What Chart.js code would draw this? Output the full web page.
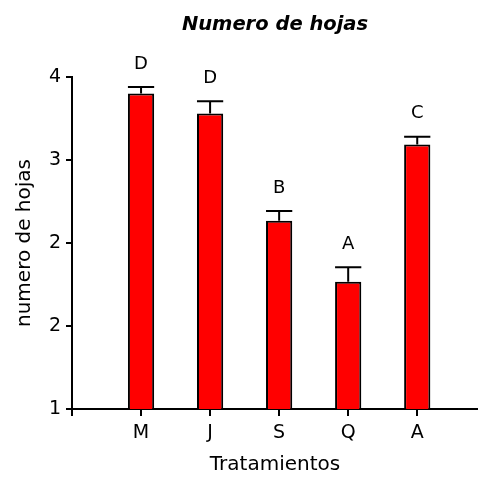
<!DOCTYPE html>
<html>
<head>
<meta charset="utf-8">
<title>Numero de hojas</title>
<script src="https://cdn.jsdelivr.net/npm/chart.js@4"></script>
<style>
  html, body { margin: 0; padding: 0; background: #fff; }
  #wrap { width: 478px; height: 478px; }
</style>
</head>
<body>
<div id="wrap"><canvas id="hojas"></canvas></div>
<script>
// treatments and their means
const tratamientos = ['M', 'J', 'S', 'Q', 'A'];
const mediaHojas = [3.85, 3.67, 2.70, 2.15, 3.39];
const errorHojas = [0.06, 0.11, 0.09, 0.13, 0.07];
const letras = ['D', 'D', 'B', 'A', 'C'];
// y axis ticks (the original labels are rounded, so "2" shows twice)
const yTickVals = [1, 1.75, 2.5, 3.25, 4];
const yTickLabels = ['1', '2', '2', '3', '4'];

Chart.defaults.font.family = '"DejaVu Sans", sans-serif';
Chart.defaults.color = '#000';

// error bar caps + significance letters over each bar, plus the x tick marks
const errorBars = {
  id: 'errorBars',
  afterDatasetsDraw(chart) {
    const ctx = chart.ctx;
    const xScale = chart.scales.x;
    const yScale = chart.scales.y;
    const bars = chart.getDatasetMeta(0).data;
    ctx.save();
    ctx.strokeStyle = '#000';
    ctx.lineWidth = 2;
    ctx.fillStyle = '#000';
    ctx.font = '18px "DejaVu Sans"';
    ctx.textAlign = 'center';
    ctx.textBaseline = 'middle';
    bars.forEach((bar, i) => {
      const top = yScale.getPixelForValue(mediaHojas[i]);
      const cap = yScale.getPixelForValue(mediaHojas[i] + errorHojas[i]);
      const half = bar.width / 2;
      ctx.beginPath();
      ctx.moveTo(bar.x, top);
      ctx.lineTo(bar.x, cap);
      ctx.moveTo(bar.x - half, cap);
      ctx.lineTo(bar.x + half, cap);
      ctx.stroke();
      ctx.fillText(letras[i], bar.x, cap - 23);
    });
    // tick marks under each treatment
    const base = chart.chartArea.bottom;
    ctx.beginPath();
    xScale.ticks.forEach(t => {
      const px = Math.round(xScale.getPixelForValue(t.value));
      ctx.moveTo(px, base);
      ctx.lineTo(px, base + 7);
    });
    ctx.stroke();
    ctx.restore();
  }
};

new Chart(document.getElementById('hojas'), {
  type: 'bar',
  data: {
    datasets: [{
      data: tratamientos.map((t, i) => ({ x: i + 1, y: mediaHojas[i] })),
      backgroundColor: '#ff0000',
      borderColor: '#000',
      borderWidth: 2,
      barPercentage: 0.38,
      categoryPercentage: 1
    }]
  },
  options: {
    responsive: true,
    maintainAspectRatio: false,
    animation: false,
    layout: { padding: 0 },
    plugins: {
      legend: { display: false },
      tooltip: { enabled: false },
      title: {
        display: true,
        text: 'Numero de hojas',
        fullSize: false,
        color: '#000',
        font: { size: 19.5, weight: 'bold', style: 'italic' },
        padding: { top: 13, bottom: 40.6 }
      }
    },
    scales: {
      x: {
        type: 'linear',
        min: 0,
        max: 5.88,
        offset: false,
        afterBuildTicks: s => { s.ticks = [0, 1, 2, 3, 4, 5].map(v => ({ value: v })); },
        afterFit: s => { s.height = 69; },
        grid: { offset: false, drawOnChartArea: false, tickLength: 6, color: '#000', lineWidth: 2 },
        border: { color: '#000', width: 2 },
        ticks: {
          color: '#000',
          font: { size: 19 },
          padding: 7,
          maxRotation: 0,
          autoSkip: false,
          callback: v => tratamientos[v - 1] || ''
        },
        title: { display: true, text: 'Tratamientos', color: '#000', font: { size: 20 }, padding: { top: 0, bottom: 1 } }
      },
      y: {
        min: 1,
        max: 4,
        afterBuildTicks: s => { s.ticks = yTickVals.map(v => ({ value: v })); },
        afterFit: s => { s.width = 72; },
        grid: { drawOnChartArea: false, tickLength: 6, color: '#000', lineWidth: 2 },
        border: { color: '#000', width: 2 },
        ticks: { color: '#000', font: { size: 19 }, padding: 5, callback: (v, i) => yTickLabels[i] },
        title: { display: true, text: 'numero de hojas', color: '#000', font: { size: 20 }, padding: { top: 13, bottom: 0 } }
      }
    }
  },
  plugins: [errorBars]
});
</script>
</body>
</html>
